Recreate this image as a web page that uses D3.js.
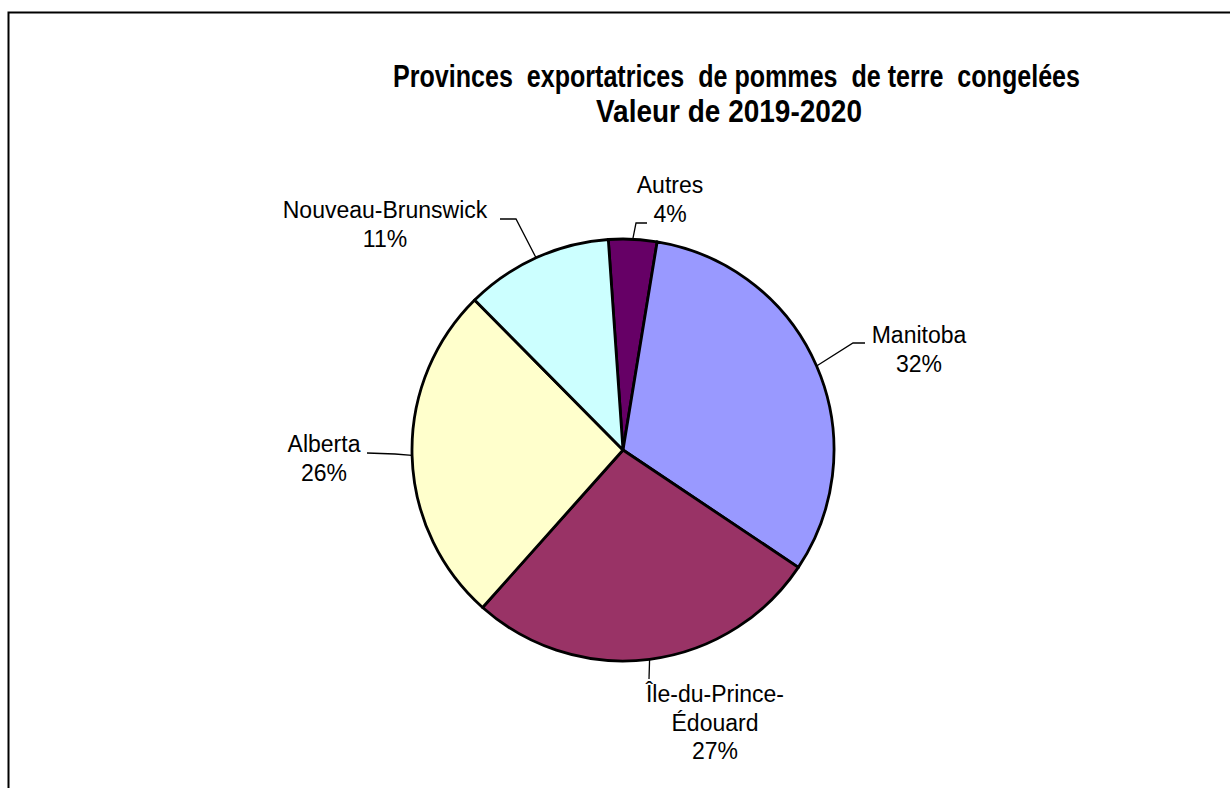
<!DOCTYPE html>
<html>
<head>
<meta charset="utf-8">
<script src="https://cdn.jsdelivr.net/npm/d3@7"></script>
<style>
  body { margin: 0; background: #fff; }
  svg { display: block; }
</style>
</head>
<body>
<div id="chart"></div>
<script>
// Data (in percent)
var provinces = ["Autres", "Manitoba", "Île-du-Prince-Édouard", "Alberta", "Nouveau-Brunswick"];
var shares = [3.7, 31.8, 27.2, 26.0, 11.3];
var labelLines = [
  ["Autres", "4%"],
  ["Manitoba", "32%"],
  ["Île-du-Prince-", "Édouard", "27%"],
  ["Alberta", "26%"],
  ["Nouveau-Brunswick", "11%"]
];
var titleLines = ["Provinces  exportatrices  de pommes  de terre  congelées", "Valeur de 2019-2020"];

// Styles / layout
var colors = ["#660066", "#9999FF", "#993366", "#FFFFCC", "#CCFFFF"];
var width = 1230, height = 788;
var cx = 623, cy = 450, radius = 211;
var startAngle = -4 * Math.PI / 180;

// label placement: text centre x, first baseline y, leader bend and end
var labelLayout = [
  { x: 670, y: 193, bend: [636, 223], end: [647, 223] },
  { x: 919, y: 343, bend: [853, 343], end: [865, 343] },
  { x: 715, y: 702, bend: [649, 679], end: [649, 679] },
  { x: 324, y: 452, bend: [395, 454], end: [367, 453] },
  { x: 385, y: 218, bend: [516, 219], end: [500, 219] }
];

var svg = d3.select("#chart")
  .append("svg")
  .attr("width", width)
  .attr("height", height);

// outer chart frame (runs past the window on right and bottom)
svg.append("rect")
  .attr("x", 8.5)
  .attr("y", 12.5)
  .attr("width", 1300)
  .attr("height", 900)
  .attr("fill", "#fff")
  .attr("stroke", "#000")
  .attr("stroke-width", 2);

// Title
var title = svg.append("g")
  .attr("font-family", "'Liberation Sans Narrow', 'Arial Narrow', 'Liberation Sans', Arial, sans-serif")
  .attr("font-weight", "bold")
  .attr("font-size", 31)
  .attr("fill", "#000")
  .attr("text-anchor", "middle");

title.append("text")
  .attr("x", 736.5)
  .attr("y", 87)
  .attr("textLength", 687)
  .attr("lengthAdjust", "spacingAndGlyphs")
  .style("white-space", "pre")
  .text(titleLines[0]);

title.append("text")
  .attr("x", 729)
  .attr("y", 122)
  .attr("textLength", 266)
  .attr("lengthAdjust", "spacingAndGlyphs")
  .text(titleLines[1]);

// Pie
var pie = d3.pie()
  .sort(null)
  .startAngle(startAngle)
  .endAngle(startAngle + 2 * Math.PI);

var arcs = pie(shares);

var arc = d3.arc()
  .innerRadius(0)
  .outerRadius(radius);

var g = svg.append("g")
  .attr("transform", "translate(" + cx + "," + cy + ")");

g.selectAll("path")
  .data(arcs)
  .enter()
  .append("path")
  .attr("d", arc)
  .attr("fill", function(d, i) { return colors[i]; })
  .attr("stroke", "#000")
  .attr("stroke-width", 2.8)
  .attr("stroke-linejoin", "round");

// Leader lines, from the slice edge at mid angle to the label
svg.selectAll("polyline.leader")
  .data(arcs)
  .enter()
  .append("polyline")
  .attr("class", "leader")
  .attr("fill", "none")
  .attr("stroke", "#000")
  .attr("stroke-width", 1.3)
  .attr("points", function(d, i) {
    var a = (d.startAngle + d.endAngle) / 2;
    var ex = cx + radius * Math.sin(a);
    var ey = cy - radius * Math.cos(a);
    var L = labelLayout[i];
    return [[ex, ey], L.bend, L.end].map(function(p) { return p.join(","); }).join(" ");
  });

// Labels
var labels = svg.selectAll("text.label")
  .data(arcs)
  .enter()
  .append("text")
  .attr("class", "label")
  .attr("font-family", "'Liberation Sans', Arial, sans-serif")
  .attr("font-size", 23)
  .attr("fill", "#000")
  .attr("text-anchor", "middle");

labels.each(function(d, i) {
  var L = labelLayout[i];
  d3.select(this).selectAll("tspan")
    .data(labelLines[i])
    .enter()
    .append("tspan")
    .attr("x", L.x)
    .attr("y", function(t, j) { return L.y + j * 28.7; })
    .text(function(t) { return t; });
});
</script>
</body>
</html>
